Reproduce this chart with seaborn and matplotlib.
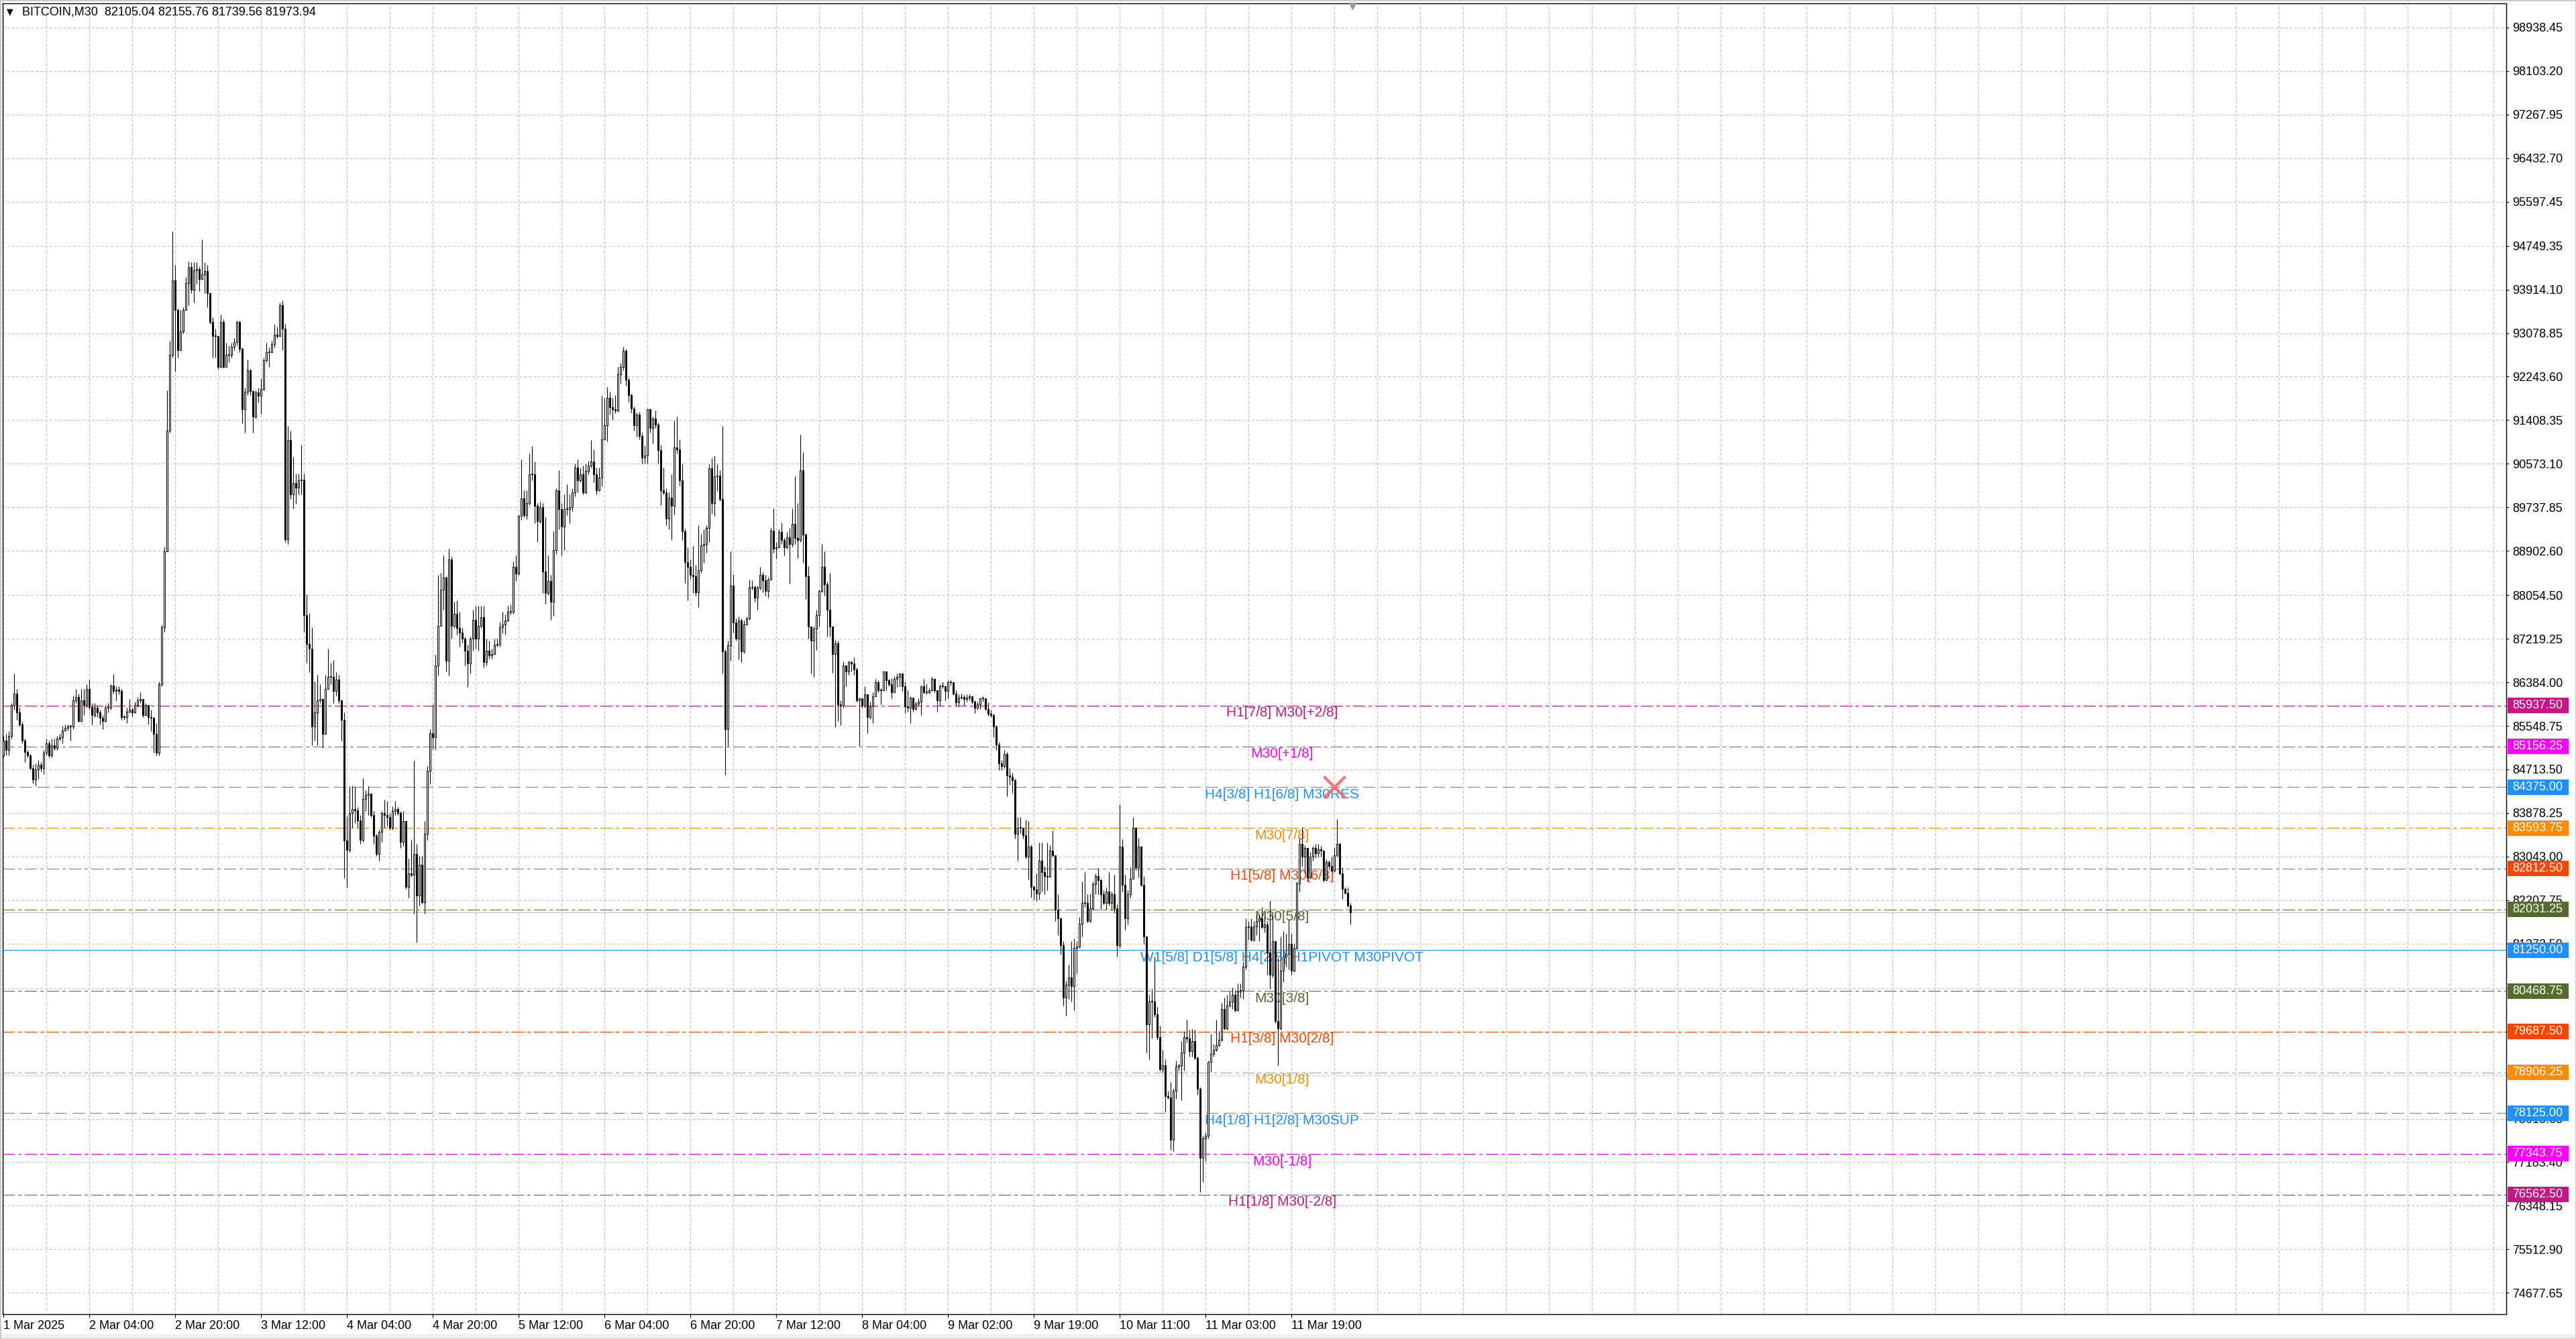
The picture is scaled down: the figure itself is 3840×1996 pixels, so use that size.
import matplotlib
matplotlib.use("Agg")
import matplotlib.pyplot as plt
import matplotlib.transforms as mtransforms
from matplotlib.patches import Rectangle
import numpy as np
import seaborn as sns

sns.set_style("white")
plt.rcParams["font.family"] = ["Liberation Sans", "DejaVu Sans"]
plt.rcParams["lines.scale_dashes"] = False

# ---- data (BITCOIN, M30) ----
title_text = "BITCOIN,M30  82105.04 82155.76 81739.56 81973.94"
first_open = 84989

close = [
    85261, 85080, 85352, 85942, 86169, 85806, 85579, 85261, 85052, 84989,
    84735, 84517, 84717, 84808, 84735, 85034, 85216, 84989, 85170, 85125,
    85306, 85334, 85461, 85515, 85534, 85534, 86033, 86097, 85643, 86033,
    85942, 86260, 85915, 85761, 85897, 85806, 85697, 85643, 85897, 85897,
    86324, 86215, 86242, 86215, 85715, 85715, 85824, 85852, 85806, 85942,
    86033, 86061, 85761, 85942, 85715, 85697, 85397, 85034, 86351, 87440,
    88893, 91209, 92661, 94086, 93523, 92751, 93115, 93523, 94041, 94340,
    93905, 94277, 94313, 94113, 94204, 94268, 93841, 93296, 93024, 93024,
    92434, 93296, 92434, 92661, 92661, 92815, 92906, 93296, 92779, 91617,
    91953, 92361, 91962, 91480, 91935, 91871, 92007, 92552, 92715, 92715,
    92870, 93042, 93024, 93614, 93160, 89120, 91027, 89982, 90209, 90118,
    90255, 90273, 87667, 87122, 87032, 85534, 85806, 86033, 86061, 85397,
    86260, 86487, 86487, 86215, 86442, 86033, 85670, 83355, 83173, 83876,
    83954, 83931, 83741, 83363, 84151, 84230, 84246, 83836, 83442, 83087,
    83521, 83876, 83836, 83797, 83600, 83915, 83954, 83876, 83324, 83718,
    82457, 82717, 82694, 83087, 82299, 82890, 82165, 83481, 84687, 85412,
    85333, 86712, 87461, 88154, 88390, 86791, 88737, 87461, 87697, 87421,
    87343, 87224, 86988, 86751, 87224, 87579, 87224, 87461, 87634, 86767,
    86988, 86893, 86925, 87106, 87122, 87445, 87492, 87571, 87737, 87737,
    88603, 88470, 89573, 89904, 89588, 89825, 90376, 90376, 89762, 89470,
    89746, 88501, 88091, 88328, 87934, 88919, 90061, 89707, 89368, 89707,
    89707, 89746, 90022, 90495, 90258, 90376, 90022, 90440, 90534, 90613,
    90376, 90061, 90313, 91046, 91306, 91834, 91653, 91622, 91598, 92283,
    92425, 92740, 92189, 91889, 91637, 91306, 91519, 91101, 90692, 90731,
    91622, 91259, 91440, 91322, 90833, 90061, 90022, 89525, 89919, 89762,
    90889, 90849, 90258, 89273, 88682, 88603, 88446, 88422, 88106, 88532,
    89005, 89029, 89344, 90486, 89816, 90329, 90344, 89895, 86980, 85482,
    87098, 88240, 87531, 87216, 87571, 86980, 87492, 87610, 88201, 88217,
    88004, 88201, 88437, 88343, 88138, 88359, 89288, 88950, 88973, 89265,
    89107, 88973, 89162, 89029, 89414, 89147, 89107, 90447, 89210, 88422,
    87452, 87177, 87413, 87665, 88138, 88595, 88264, 87768, 87452, 86924,
    87137, 85955, 85932, 86704, 86586, 86767, 86743, 86625, 86034, 86073,
    85932, 86152, 85719, 85916, 86113, 86389, 86231, 86231, 86586, 86428,
    86349, 86192, 86452, 86483, 86546, 86310, 85916, 85900, 86089, 85876,
    85979, 86010, 86310, 86192, 86192, 86231, 86452, 86231, 86034, 86310,
    86310, 86215, 86389, 86389, 86168, 85995, 86089, 86105, 86058, 86089,
    86113, 86010, 85900, 85955, 86073, 86073, 85876, 85774, 85759, 85538,
    85191, 84828, 84773, 85010, 84592, 84576, 84513, 83473, 83591, 83591,
    83457, 83040, 83237, 82464, 82409, 82330, 82961, 82748, 82667, 82656,
    83154, 83072, 82019, 81856, 81343, 80343, 80586, 80732, 80559, 81289,
    81316, 81759, 82154, 82154, 81802, 82046, 82516, 82667, 82586, 82316,
    82154, 82370, 82154, 82316, 82046, 81343, 83235, 82505, 81856, 82316,
    82613, 83597, 82829, 83235, 82505, 81505, 79830, 80262, 80262, 80019,
    79586, 78965, 79046, 78451, 78424, 77613, 78559, 79019, 79046, 79289,
    79586, 79559, 79316, 79505, 79181, 78586, 77262, 77640, 77695, 79100,
    79262, 79343, 79424, 79532, 80127, 79749, 80181, 80262, 80397, 80100,
    80451, 80478, 80938, 81694, 81705, 81451, 81705, 81802, 81856, 81694,
    81748, 81208, 80775, 81424, 79884, 79749, 80857, 81127, 81181, 81370,
    80857, 81289, 82532, 83289, 83046, 83208, 82640, 83046, 83208, 83100,
    83181, 83154, 82586, 82937, 82856, 82775, 83073, 83289, 82721, 82424,
    82343, 82105, 81974,
]

high = [
    85352, 85397, 85443, 85988, 86551, 86260, 85897, 85624, 85306, 85080,
    85007, 84808, 84826, 84898, 84853, 85080, 85306, 85261, 85306, 85306,
    85352, 85397, 85552, 85579, 85579, 85579, 86124, 86260, 86169, 86260,
    86260, 86351, 86442, 85988, 85988, 85942, 85852, 85761, 85942, 85988,
    86351, 86533, 86306, 86306, 86260, 85761, 85897, 86061, 85897, 86006,
    86097, 86188, 86033, 85988, 85942, 85852, 85715, 85606, 86396, 87486,
    88984, 91980, 92933, 95021, 94386, 93554, 93523, 93569, 94159, 94449,
    94431, 94431, 94431, 94340, 94867, 94431, 94386, 93841, 93387, 93160,
    93024, 93432, 93342, 92888, 92842, 92888, 92978, 93323, 93323, 92797,
    92025, 92570, 92388, 91980, 91980, 92025, 92207, 92615, 92888, 92797,
    92933, 93251, 93205, 93659, 93705, 93251, 91299, 91208, 90709, 90391,
    90391, 90936, 90391, 88076, 87713, 87440, 86396, 86532, 86351, 86078,
    86532, 87032, 86759, 86805, 86578, 86532, 86033, 85806, 83809, 84388,
    84403, 84388, 83994, 83836, 84545, 84309, 84388, 84246, 83915, 83481,
    83560, 83915, 84136, 84112, 83876, 84009, 84112, 83994, 83915, 83915,
    83678, 83008, 83363, 84876, 83284, 83048, 83048, 83718, 84782, 85491,
    85964, 86909, 88446, 88485, 88816, 88422, 88942, 88785, 87934, 87949,
    87737, 87421, 87264, 87106, 87264, 87776, 87855, 87855, 87855, 87855,
    87224, 87185, 87027, 87224, 87224, 87540, 87737, 87682, 87855, 87871,
    88706, 88816, 89604, 90652, 90061, 90061, 90770, 90912, 90613, 89825,
    89841, 89825, 89549, 88816, 88446, 89273, 90101, 90455, 89825, 89982,
    90179, 89982, 90101, 90573, 90652, 90495, 90534, 90573, 90629, 91023,
    90849, 90495, 90495, 91874, 91834, 92047, 91952, 91834, 91889, 92425,
    92504, 92819, 92780, 92228, 91913, 91677, 91558, 91574, 91164, 90928,
    91637, 91637, 91480, 91598, 91361, 90944, 90495, 90101, 90022, 90376,
    91401, 91480, 91046, 90573, 89336, 88974, 88737, 88997, 88634, 89399,
    89226, 89320, 89399, 90565, 90683, 90723, 90565, 90447, 91298, 87019,
    87177, 88894, 88453, 87610, 87649, 87610, 87571, 87649, 88359, 88343,
    88240, 88240, 88595, 88500, 88437, 88398, 89344, 89714, 89068, 89320,
    89446, 89147, 89265, 89344, 89714, 90329, 89816, 91132, 90801, 89241,
    88611, 87452, 87452, 87768, 88162, 89029, 88894, 88319, 88477, 87334,
    87192, 87177, 86034, 86783, 86704, 86798, 86798, 86861, 86664, 86089,
    86073, 86310, 86136, 86010, 86192, 86452, 86428, 86270, 86609, 86609,
    86452, 86467, 86507, 86546, 86562, 86562, 86404, 86231, 86113, 85995,
    86010, 86073, 86326, 86452, 86349, 86270, 86483, 86467, 86231, 86349,
    86389, 86310, 86428, 86428, 86270, 86231, 86152, 86168, 86136, 86152,
    86152, 86113, 86034, 86010, 86089, 86113, 86058, 85995, 85853, 85774,
    85561, 85246, 84891, 85089, 85049, 84734, 84655, 84537, 83804, 83804,
    83591, 83749, 83725, 83276, 82488, 82724, 83316, 83316, 82856, 83316,
    83262, 83543, 82948, 82315, 81867, 81424, 80667, 80965, 81424, 81478,
    81424, 81883, 82559, 82748, 82316, 82332, 82559, 82721, 82818, 82613,
    82397, 82451, 82748, 82370, 82694, 82127, 84045, 83370, 82694, 82397,
    82829, 83802, 83613, 83397, 83235, 82667, 81505, 80397, 80505, 81127,
    80154, 79803, 79343, 79154, 78559, 78722, 78586, 79127, 79073, 79505,
    79694, 79911, 79721, 79738, 79721, 79208, 78613, 77695, 77749, 79127,
    79640, 79451, 79911, 79694, 80235, 80343, 80397, 80451, 80532, 80478,
    80613, 80613, 81019, 81856, 81802, 81856, 81802, 81938, 81938, 82073,
    81910, 81802, 82191, 81938, 81424, 81100, 81505, 81613, 81559, 81829,
    81559, 81370, 82559, 83397, 83613, 83262, 83154, 83127, 83251, 83289,
    83289, 83251, 83154, 82991, 82964, 83035, 83218, 83759, 83316, 82829,
    82451, 82451, 82156,
]

low = [
    84944, 84989, 84989, 85306, 85852, 85670, 85534, 85216, 84853, 84944,
    84717, 84444, 84399, 84535, 84671, 84626, 84989, 84944, 84944, 85080,
    85080, 85261, 85216, 85443, 85461, 85261, 85488, 85988, 85624, 85624,
    85761, 85897, 85852, 85579, 85715, 85715, 85579, 85488, 85624, 85806,
    85852, 86169, 86033, 86151, 85670, 85670, 85606, 85806, 85733, 85788,
    85915, 85988, 85715, 85761, 85579, 85443, 85034, 84989, 84989, 86306,
    87349, 90618, 91163, 92615, 92343, 92615, 92751, 93069, 93659, 93614,
    93841, 93659, 94023, 93886, 94113, 93841, 93569, 93251, 92615, 92615,
    92388, 92416, 92416, 92570, 92525, 92615, 92751, 92842, 92706, 91344,
    91163, 91889, 91889, 91163, 91435, 91753, 91526, 91980, 92525, 92434,
    92706, 92797, 92978, 93024, 92751, 89074, 89029, 89892, 89710, 89801,
    89982, 89982, 87349, 86759, 86578, 85170, 85261, 85170, 85988, 85125,
    85988, 86260, 86351, 85988, 86124, 85988, 85261, 82628, 82446, 83127,
    83600, 83678, 83600, 83284, 83324, 83915, 83836, 83797, 83284, 83048,
    82969, 83324, 83600, 83639, 83560, 83560, 83836, 83836, 83206, 83245,
    82418, 82260, 82654, 81945, 81393, 82102, 82142, 81945, 83363, 84427,
    85097, 85097, 86515, 87540, 87776, 86594, 86515, 87224, 87421, 87303,
    87067, 87146, 86712, 86295, 86555, 86988, 87027, 86988, 87421, 86673,
    86712, 86830, 86830, 86909, 87067, 87067, 87319, 87303, 87555, 87682,
    87697, 88328, 88446, 89494, 89549, 89510, 89785, 90258, 89431, 89076,
    89431, 88091, 87894, 88052, 87579, 87658, 88840, 89313, 88816, 88919,
    89588, 89431, 89667, 89943, 90022, 90219, 89982, 89998, 90376, 90495,
    90219, 89982, 90046, 90140, 91031, 91007, 91519, 91417, 91543, 91574,
    92110, 92362, 92071, 91755, 91558, 91204, 91086, 91046, 90573, 90573,
    90573, 91164, 90967, 91259, 90573, 89785, 89982, 89391, 89313, 89116,
    89604, 90770, 90156, 89116, 88288, 87949, 88367, 88091, 88043, 87823,
    88477, 88674, 88871, 89068, 89619, 89580, 90053, 89856, 86546, 84616,
    85167, 86798, 87334, 87177, 86822, 86767, 86940, 87492, 87586, 88162,
    87925, 87768, 88162, 88107, 88043, 88004, 88359, 88871, 88753, 88989,
    89028, 88816, 88950, 88280, 88989, 89029, 88768, 89068, 88674, 87980,
    87216, 86546, 86483, 87003, 87452, 88107, 88043, 87255, 87255, 86562,
    85522, 85640, 85561, 85900, 86310, 86531, 86586, 86531, 86010, 85167,
    85900, 85900, 85404, 85679, 85601, 86113, 86192, 85955, 86231, 86231,
    86310, 86073, 86231, 86294, 86310, 86215, 85798, 85821, 85601, 85821,
    85853, 85932, 85758, 86168, 86152, 86168, 86215, 86192, 85821, 85932,
    86270, 86034, 86073, 86326, 86136, 85932, 85916, 86058, 85932, 86010,
    86034, 85979, 85798, 85853, 85876, 86010, 85853, 85743, 85719, 85325,
    85089, 84694, 84694, 84734, 84198, 84419, 84261, 83394, 82961, 83489,
    83394, 83000, 82606, 82252, 82212, 82196, 82212, 82370, 82316, 82397,
    82829, 83046, 81802, 81532, 81165, 80181, 79992, 80316, 80262, 80100,
    80802, 81289, 81505, 82073, 81775, 81775, 82019, 82316, 82316, 82019,
    82127, 82019, 82100, 82008, 81965, 81127, 81289, 82370, 81640, 81748,
    82262, 82613, 82786, 82640, 82478, 81370, 79289, 79154, 79559, 79965,
    79532, 78938, 78911, 78154, 78397, 77424, 77397, 78397, 78938, 78370,
    78938, 79478, 79208, 79208, 79154, 78478, 76614, 76803, 77208, 77640,
    78911, 79208, 79316, 79397, 79505, 79721, 79721, 80154, 80127, 80073,
    80084, 80343, 80316, 80884, 81451, 81424, 81424, 81532, 81424, 81667,
    81586, 80775, 80505, 80721, 79857, 79046, 79721, 80640, 80938, 80884,
    80775, 80830, 81262, 82370, 82856, 82721, 82559, 82613, 82964, 83019,
    83046, 83046, 82559, 82586, 82802, 82748, 82748, 83046, 82694, 82235,
    82316, 82073, 81740,
]

time_label_bars = [0, 32, 64, 96, 128, 160, 192, 224, 256, 288, 320, 352, 384, 416, 448, 480]
time_labels = ["1 Mar 2025", "2 Mar 04:00", "2 Mar 20:00", "3 Mar 12:00", "4 Mar 04:00",
               "4 Mar 20:00", "5 Mar 12:00", "6 Mar 04:00", "6 Mar 20:00", "7 Mar 12:00",
               "8 Mar 04:00", "9 Mar 02:00", "9 Mar 19:00", "10 Mar 11:00", "11 Mar 03:00",
               "11 Mar 19:00"]

price_ticks = [98938.45, 98103.20, 97267.95, 96432.70, 95597.45, 94749.35, 93914.10,
               93078.85, 92243.60, 91408.35, 90573.10, 89737.85, 88902.60, 88054.50,
               87219.25, 86384.00, 85548.75, 84713.50, 83878.25, 83043.00, 82207.75,
               81372.50, 80524.40, 79689.15, 78853.90, 78018.65, 77183.40, 76348.15,
               75512.90, 74677.65]

levels = [85937.50, 85156.25, 84375.00, 83593.75, 82812.50, 82031.25, 81250.00,
          80468.75, 79687.50, 78906.25, 78125.00, 77343.75, 76562.50]
level_names = ["H1[7/8] M30[+2/8]", "M30[+1/8]", "H4[3/8] H1[6/8] M30RES", "M30[7/8]",
               "H1[5/8] M30[6/8]", "M30[5/8]", "W1[5/8] D1[5/8] H4[2/8] H1PIVOT M30PIVOT",
               "M30[3/8]", "H1[3/8] M30[2/8]", "M30[1/8]", "H4[1/8] H1[2/8] M30SUP",
               "M30[-1/8]", "H1[1/8] M30[-2/8]"]
level_colors = ["#C71585", "#FF00FF", "#1E90FF", "#FF8C00", "#FF4500", "#556B2F", "#1E90FF",
                "#556B2F", "#FF4500", "#FF8C00", "#1E90FF", "#FF00FF", "#C71585"]
level_styles = ["dashdot", "dashdot", "dash", "dashdot", "dashdot", "dashdot", "solid",
                "dashdot", "dashdot", "dashdot", "dash", "dashdot", "dashdot"]

bid_price = 81973.94
signal_bar = 496
signal_price = 84375.0

# ---- figure ----
W, H = 3840, 1996
fig = plt.figure(figsize=(W / 100, H / 100), dpi=100)
fig.patch.set_facecolor("white")
ax = fig.add_axes([4 / W, 37 / H, 3732 / W, 1954 / H])
ax.set_facecolor("white")
ax.set_xlim(-0.3, 932.7)
ax.set_ylim(74270, 99400)

# grid
ax.set_xticks(time_label_bars)
ax.set_xticks(np.arange(0, 933, 16), minor=True)
ax.set_yticks(price_ticks)
grid_kw = dict(color="#C2C2C2", linewidth=0.7, linestyle=(0, (2.2, 2.2)), zorder=0,
               antialiased=False)
ax.grid(True, axis="x", which="both", **grid_kw)
ax.grid(True, axis="y", which="major", **grid_kw)
ax.set_axisbelow(True)

# levels
dash_map = {"dashdot": (0, (12.5, 3.6, 3.2, 3.6)), "dash": (0, (12.5, 5.8)), "solid": "-"}
for lv, name, col, st in zip(levels, level_names, level_colors, level_styles):
    ax.axhline(lv, color=col, linewidth=0.7, linestyle=dash_map[st], zorder=1,
               antialiased=False)
    ax.annotate(name, xy=(476.5, lv), xytext=(0, -8), textcoords="offset points",
                ha="center", va="center", color=col, fontsize=15, zorder=2)

ax.axhline(bid_price, color="#BDBDBD", linewidth=0.7, zorder=1, antialiased=False)

# candles
opens = [first_open] + close[:-1]
bars = np.arange(len(close))
body_lo = [min(o, c) for o, c in zip(opens, close)]
body_h = [max(abs(c - o), 14) for o, c in zip(opens, close)]
hi = [max(h, o, c) for h, o, c in zip(high, opens, close)]
lo = [min(l, o, c) for l, o, c in zip(low, opens, close)]
fills = ["white" if c >= o else "black" for o, c in zip(opens, close)]
ax.vlines(bars, lo, hi, color="black", linewidth=0.8, zorder=3)
ax.bar(bars, body_h, bottom=body_lo, width=0.6, color=fills, edgecolor="black",
       linewidth=0.75, zorder=4)

# sell signal cross
sns.scatterplot(x=[signal_bar], y=[signal_price], marker="x", s=23 ** 2, color="#F06B6B",
                linewidth=3.2, alpha=0.9, ax=ax, zorder=5, legend=False)

# chart-shift marker on the top border
top_tr = mtransforms.blended_transform_factory(ax.transData, ax.transAxes)
ax.plot([502.7], [0.998], transform=top_tr, marker="v", color="#9A9A9A", markersize=7,
        clip_on=False, zorder=6)

# axes styling
for sp in ax.spines.values():
    sp.set_color("black")
    sp.set_linewidth(1.0)
ax.yaxis.tick_right()
ax.set_yticklabels([f"{v:.2f}" for v in price_ticks])
ax.tick_params(axis="y", which="major", right=True, left=False, length=3.0, width=0.8,
               pad=3.6, labelsize=13, colors="black", direction="out")
ax.set_xticklabels(time_labels)
ax.tick_params(axis="x", which="major", bottom=True, length=3.6, width=0.8, pad=3.2,
               labelsize=13, colors="black", direction="out")
ax.tick_params(axis="x", which="minor", length=0)
for lab in ax.get_xticklabels():
    lab.set_horizontalalignment("left")
ax.set_xlabel("")
ax.set_ylabel("")

# coloured price boxes on the right scale
side_tr = mtransforms.blended_transform_factory(ax.transAxes, ax.transData)
box_h = 23 / (1954 / (99400 - 74270))
for lv, col in zip(levels, level_colors):
    ax.add_patch(Rectangle((1.0005, lv - box_h / 2), 0.0244, box_h, transform=side_tr,
                           facecolor=col, edgecolor="none", clip_on=False, zorder=7))
    ax.text(1.0024, lv, f"{lv:.2f}", transform=side_tr, ha="left", va="center",
            color="white", fontsize=13, clip_on=False, zorder=8)

# header
fig.text(10 / W, 1 - 18 / H, "\u25bc", fontsize=9, ha="left", va="center", color="black",
         family=["DejaVu Sans"])
fig.text(33 / W, 1 - 18 / H, title_text, fontsize=13, ha="left", va="center", color="black")

# window frame
fig.patches.append(Rectangle((0, 0), 1, 7 / H, transform=fig.transFigure,
                             facecolor="#EFEFEF", edgecolor="none"))
fig.patches.append(Rectangle((0, 0), 1, 1, transform=fig.transFigure, fill=False,
                             edgecolor="#C8C8C8", linewidth=2))

fig.savefig("out.png", dpi=100)
